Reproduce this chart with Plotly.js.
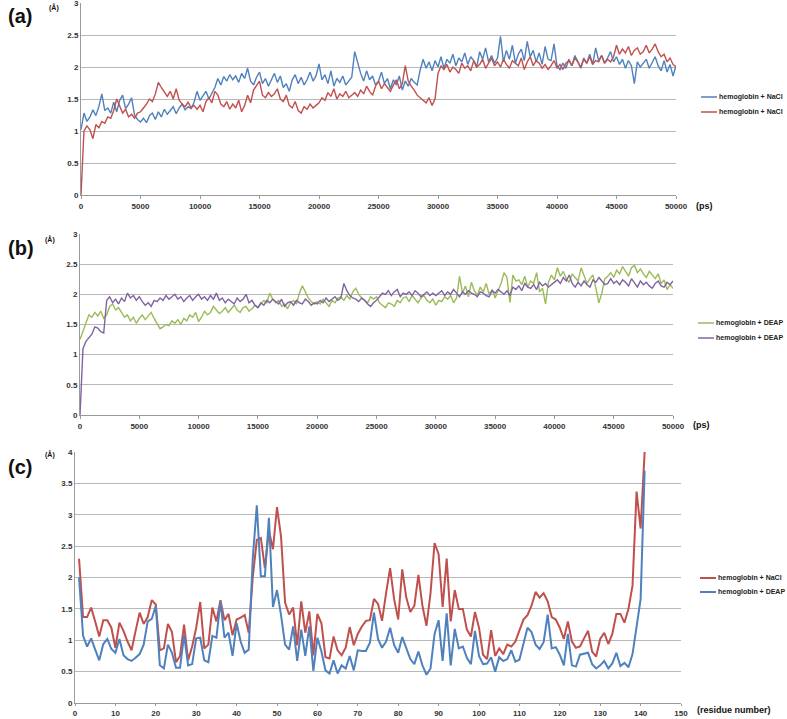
<!DOCTYPE html>
<html><head><meta charset="utf-8">
<script src="https://cdn.plot.ly/plotly-3.0.1.min.js"></script>
<style>html,body{margin:0;padding:0;background:#fff}#chart{width:787px;height:719px}</style>
</head><body><div id="chart"></div>
<script>
// Panel (a): RMSD vs time (ps), sampled every 250 ps from 0 to 50000
const tStep = 250;
const aBlue = [
1.02,1.28,1.15,1.22,1.33,1.24,1.38,1.58,1.32,1.36,1.28,1.45,1.30,1.48,1.56,1.35,1.42,1.52,1.25,1.18,
1.14,1.20,1.13,1.24,1.28,1.18,1.30,1.22,1.34,1.26,1.32,1.38,1.27,1.36,1.42,1.33,1.38,1.35,1.45,1.62,
1.48,1.55,1.62,1.50,1.58,1.68,1.82,1.72,1.85,1.78,1.88,1.80,1.86,1.76,1.90,1.82,1.98,1.78,1.72,1.84,
1.92,1.74,1.82,1.70,1.80,1.90,1.76,1.86,1.68,1.74,1.62,1.80,1.88,1.74,1.84,1.72,1.80,1.92,1.78,1.86,
2.05,1.80,1.88,1.74,1.94,1.70,1.82,1.76,1.86,1.72,1.78,1.84,2.24,2.06,1.90,1.78,1.94,1.80,1.86,1.72,
1.78,1.92,1.74,1.82,1.66,1.80,1.72,1.86,1.64,1.78,1.70,1.82,1.76,1.72,1.95,2.12,1.98,2.08,1.94,2.10,
2.00,2.16,1.98,2.12,2.06,2.20,2.02,2.14,2.08,2.22,2.04,2.16,2.10,2.00,2.24,2.12,2.30,2.08,2.18,2.06,
2.14,2.48,2.08,2.26,2.12,2.34,2.06,2.20,2.28,2.10,2.40,2.16,2.26,2.08,2.22,2.04,2.32,2.12,2.10,2.36,
2.02,1.96,2.06,1.98,2.12,2.02,2.18,2.08,1.98,2.14,2.06,2.20,2.04,2.30,2.10,2.18,2.06,2.14,2.24,2.08,
2.16,2.04,2.12,1.98,2.10,2.02,1.74,2.08,2.00,2.06,2.12,1.98,2.08,2.16,2.02,1.94,2.10,1.92,2.04,1.86,
2.02];
const aRed = [
0.00,1.00,1.08,1.02,0.88,1.10,1.05,1.15,1.12,1.22,1.20,1.32,1.50,1.38,1.28,1.34,1.22,1.26,1.20,1.28,
1.30,1.36,1.42,1.50,1.46,1.58,1.76,1.68,1.60,1.54,1.62,1.50,1.66,1.48,1.42,1.38,1.45,1.36,1.40,1.34,
1.40,1.30,1.46,1.52,1.44,1.62,1.56,1.42,1.38,1.46,1.34,1.42,1.36,1.48,1.30,1.40,1.56,1.44,1.64,1.72,
1.78,1.56,1.52,1.60,1.54,1.58,1.66,1.50,1.46,1.56,1.40,1.36,1.46,1.32,1.28,1.38,1.34,1.42,1.36,1.40,
1.44,1.52,1.48,1.60,1.54,1.66,1.50,1.58,1.54,1.62,1.52,1.56,1.60,1.54,1.64,1.58,1.70,1.62,1.56,1.70,
1.78,1.66,1.74,1.68,1.62,1.72,1.80,1.66,1.74,2.02,1.78,1.70,1.64,1.56,1.52,1.48,1.44,1.52,1.40,1.50,
1.90,2.02,1.96,2.04,1.92,2.00,1.96,1.90,2.06,1.98,2.02,1.94,2.10,2.00,2.04,2.12,1.98,2.06,2.14,2.02,
2.08,2.00,2.12,2.04,1.98,2.10,2.06,2.02,2.14,1.96,2.08,2.16,2.02,2.10,2.06,1.98,2.04,1.96,2.02,2.10,
1.98,2.04,1.96,2.06,2.10,2.02,2.14,2.08,2.00,2.12,2.06,2.16,2.04,2.10,2.08,2.18,2.06,2.12,2.08,2.16,
2.34,2.20,2.28,2.22,2.32,2.18,2.26,2.30,2.20,2.24,2.34,2.22,2.28,2.36,2.24,2.16,2.20,2.08,2.14,2.04,
2.00];
// Panel (b)
const bGreen = [
1.25,1.38,1.52,1.66,1.62,1.70,1.64,1.72,1.60,1.66,1.80,1.84,1.74,1.78,1.70,1.62,1.66,1.56,1.62,1.52,
1.60,1.66,1.58,1.64,1.70,1.60,1.52,1.43,1.46,1.50,1.48,1.56,1.52,1.58,1.50,1.60,1.56,1.66,1.62,1.70,
1.55,1.62,1.72,1.66,1.70,1.80,1.74,1.68,1.72,1.78,1.70,1.76,1.82,1.74,1.70,1.78,1.80,1.72,1.76,1.82,
1.78,1.84,1.90,1.86,2.02,1.92,1.86,1.90,1.80,1.84,1.76,1.86,1.90,1.84,2.02,2.14,2.04,1.94,1.88,1.84,
1.88,1.84,1.92,1.86,1.80,1.90,1.86,1.94,1.96,1.90,1.98,1.92,2.04,2.10,2.00,1.94,1.90,1.86,1.96,1.92,
1.96,1.86,1.82,1.78,1.86,1.84,1.80,1.90,1.86,1.94,1.96,1.88,1.98,1.92,1.86,1.94,1.98,1.90,1.86,1.92,
1.82,1.90,1.88,1.96,1.92,1.98,1.86,1.94,2.30,2.02,2.14,1.96,2.20,2.06,1.98,2.12,2.04,2.18,2.00,2.08,
1.94,2.06,2.18,2.36,2.28,1.86,2.32,2.22,2.24,2.16,2.30,2.12,2.22,2.18,2.36,2.04,2.10,1.84,2.20,2.32,
2.24,2.44,2.30,2.38,2.26,2.20,2.34,2.28,2.22,2.44,2.30,2.18,2.26,2.32,2.10,1.86,2.02,2.26,2.30,2.36,
2.28,2.40,2.34,2.46,2.38,2.30,2.44,2.48,2.36,2.42,2.34,2.28,2.38,2.32,2.26,2.34,2.18,2.24,2.08,2.16,
2.10];
const bPurple = [
0.00,1.10,1.22,1.28,1.34,1.46,1.44,1.38,1.36,1.90,1.96,1.86,1.92,1.84,1.94,1.88,2.02,1.94,1.98,1.90,
1.96,1.88,1.82,1.86,1.80,1.90,1.88,1.94,1.90,1.98,1.92,1.96,2.00,1.92,1.96,1.88,1.94,1.98,1.90,1.96,
2.00,1.92,1.96,1.90,1.98,1.92,2.02,1.90,1.94,1.86,1.92,1.88,1.84,1.94,1.88,1.92,2.00,1.86,1.90,1.82,
1.78,1.86,1.82,1.90,1.86,1.92,1.88,1.84,1.92,1.80,1.86,1.88,1.82,1.90,1.86,1.84,1.92,1.88,1.82,1.86,
1.84,1.90,1.86,1.94,1.88,1.92,1.96,1.90,1.94,2.18,2.06,1.98,1.94,1.92,1.88,1.94,1.90,1.84,1.80,1.86,
1.90,1.96,2.02,2.00,2.06,1.98,2.04,2.08,1.96,2.02,2.00,2.04,1.98,2.06,2.02,1.96,2.00,2.04,1.98,2.02,
1.98,2.02,2.06,1.98,2.04,2.00,2.08,2.02,1.96,2.04,2.00,2.06,2.02,2.00,1.96,2.04,2.02,1.98,1.96,2.06,
2.02,2.08,2.04,2.00,2.06,1.98,2.12,2.08,2.14,2.06,2.18,2.12,2.10,2.16,2.08,2.20,2.14,2.18,2.12,2.16,
2.20,2.24,2.18,2.28,2.22,2.32,2.18,2.12,2.20,2.14,2.22,2.16,2.12,2.24,2.20,2.28,2.22,2.16,2.18,2.26,
2.18,2.22,2.16,2.24,2.20,2.14,2.26,2.18,2.12,2.22,2.16,2.20,2.14,2.10,2.18,2.22,2.14,2.12,2.20,2.16,
2.22];
// Panel (c): RMSF per residue 1..141
const cNaCl = [
2.30,1.37,1.37,1.52,1.30,1.06,1.32,1.32,1.20,0.88,1.28,1.15,0.98,0.84,1.15,1.44,1.26,1.37,1.64,1.57,
0.84,0.87,1.26,1.13,0.65,0.75,1.25,0.68,0.90,1.20,1.61,0.87,0.93,1.52,1.30,1.64,1.32,1.42,1.08,1.33,
1.36,1.40,1.12,2.00,2.60,2.63,2.15,2.75,2.45,3.12,2.65,1.60,1.41,1.52,0.92,1.62,1.12,1.46,0.76,1.42,
1.27,0.73,0.71,1.06,0.84,0.76,0.88,1.21,0.92,1.10,1.22,1.31,1.32,1.66,1.58,1.31,1.75,2.15,1.65,1.33,
2.13,1.68,1.45,1.55,2.04,1.55,1.23,1.75,2.55,2.37,1.53,2.30,1.30,1.80,1.50,1.50,1.17,1.06,1.45,1.20,
0.77,0.70,1.16,0.75,0.87,0.78,0.93,0.90,0.98,1.15,1.33,1.40,1.55,1.77,1.68,1.75,1.62,1.37,1.33,1.20,
1.02,1.30,0.98,0.88,0.90,1.03,1.15,0.82,0.74,1.02,1.12,0.94,1.10,1.42,1.42,1.28,1.50,1.87,3.37,2.78,
4.00];
const cDEAP = [
2.00,1.07,0.90,1.03,0.85,0.68,0.94,1.02,0.86,0.80,1.02,0.76,0.70,0.67,0.72,0.78,0.93,1.30,1.34,1.55,
0.60,0.55,0.93,0.80,0.56,0.56,1.08,0.60,0.62,1.03,1.04,0.68,0.65,1.07,1.04,1.62,1.04,1.12,0.75,1.27,
0.98,0.80,0.85,2.30,3.15,2.02,2.02,2.95,1.53,1.80,1.40,0.93,0.85,1.22,0.67,1.17,0.75,1.22,0.51,1.04,
0.82,0.52,0.47,0.68,0.47,0.60,0.55,0.75,0.52,0.84,0.83,0.83,0.96,1.44,1.02,0.88,0.98,1.20,0.92,0.80,
1.05,0.87,0.70,0.62,0.82,0.60,0.45,0.55,1.10,1.32,0.67,1.43,0.60,1.18,0.87,0.90,0.72,0.62,1.15,0.75,
0.62,0.63,0.73,0.50,0.73,0.67,0.70,0.84,0.66,0.69,0.95,1.20,1.13,0.93,0.86,0.97,1.41,0.87,0.89,0.77,
0.60,1.10,0.60,0.58,0.77,0.79,0.80,0.62,0.55,0.60,0.67,0.55,0.63,0.80,0.59,0.64,0.57,0.78,1.20,1.65,
3.70];
const legendA = ["hemoglobin + NaCl", "hemoglobin + NaCl"];
const legendB = ["hemoglobin + DEAP", "hemoglobin + DEAP"];
const legendC = ["hemoglobin + NaCl", "hemoglobin + DEAP"];
const colors = {blue:"#4F81BD", red:"#C0504D", green:"#9BBB59", purple:"#8064A2"};

const times = aBlue.map((_, i) => i * tStep);
const residues = cNaCl.map((_, i) => i + 1);

const W = 787, H = 719;
const px = x => x / W;
const py = y => 1 - y / H;
const dx = (l, r) => [px(l), px(r)];
const dy = (t, b) => [py(b), py(t)];

const traces = [
  {x: times, y: aBlue, xaxis:"x", yaxis:"y", name: legendA[0], line:{color:colors.blue,width:1.4}},
  {x: times, y: aRed, xaxis:"x", yaxis:"y", name: legendA[1], line:{color:colors.red,width:1.4}},
  {x: times, y: bGreen, xaxis:"x2", yaxis:"y2", name: legendB[0], line:{color:colors.green,width:1.4}},
  {x: times, y: bPurple, xaxis:"x2", yaxis:"y2", name: legendB[1], line:{color:colors.purple,width:1.4}},
  {x: residues, y: cNaCl, xaxis:"x3", yaxis:"y3", name: legendC[0], line:{color:colors.red,width:2}},
  {x: residues, y: cDEAP, xaxis:"x3", yaxis:"y3", name: legendC[1], line:{color:colors.blue,width:2}}
].map(t => Object.assign({type:"scatter", mode:"lines", hoverinfo:"skip", showlegend:false}, t));

const FONT = "Liberation Sans, Arial, sans-serif";
const tickfont = {family:FONT, size:8, color:"#333", weight:"bold"};
const xbase = {showgrid:false, showline:true, linecolor:"#9a9a9a", linewidth:1, ticks:"outside", ticklen:3, tickcolor:"#9a9a9a",
  tickfont, zeroline:false, tickformat:"d", ticklabeloverflow:"allow"};
const ybase = {showgrid:true, gridcolor:"#b8b8b8", gridwidth:1, showline:true, linecolor:"#9a9a9a", linewidth:1, ticks:"",
  tickfont, zeroline:false, ticklabeloverflow:"allow"};

const ann = (text, x, y, size, opts) => Object.assign({text, x: px(x), y: py(y), xref:"paper", yref:"paper", showarrow:false,
  font:{family:FONT, size, color:"#111", weight:"bold"}, xanchor:"left", yanchor:"middle"}, opts || {});

// manual legends: line sample (shape) + label (annotation)
const shapes = [];
const legAnn = [];
function addLegend(names, cols, x0, y0, gap, lw) {
  names.forEach((n, i) => {
    const y = y0 + i * gap;
    shapes.push({type:"line", xref:"paper", yref:"paper", x0: px(x0), x1: px(x0 + 16), y0: py(y), y1: py(y),
      line:{color: cols[i], width: lw}});
    legAnn.push(ann(n, x0 + 16, y, 7, {font:{family:FONT, size:7, color:"#222", weight:"bold"}}));
  });
}
addLegend(legendA, [colors.blue, colors.red], 701, 97, 15, 1.5);
addLegend(legendB, [colors.green, colors.purple], 698, 323, 15, 1.5);
addLegend(legendC, [colors.red, colors.blue], 700, 578, 14, 2);

const layout = {
  width: W, height: H, margin:{l:0,r:0,t:0,b:0, autoexpand:false}, paper_bgcolor:"#fff", plot_bgcolor:"#fff",
  xaxis: Object.assign({}, xbase, {domain: dx(81, 676), range:[0,50000], dtick:5000, tick0:0, anchor:"y"}),
  yaxis: Object.assign({}, ybase, {domain: dy(3, 195), range:[0,3], dtick:0.5, anchor:"x"}),
  xaxis2: Object.assign({}, xbase, {domain: dx(80, 673), range:[0,50000], dtick:5000, tick0:0, anchor:"y2"}),
  yaxis2: Object.assign({}, ybase, {domain: dy(234, 415), range:[0,3], dtick:0.5, anchor:"x2"}),
  xaxis3: Object.assign({}, xbase, {domain: dx(75, 681), range:[0,150], dtick:10, tick0:0, anchor:"y3", ticklen:2}),
  yaxis3: Object.assign({}, ybase, {domain: dy(452, 703), range:[0,4], dtick:0.5, anchor:"x3"}),
  shapes,
  annotations: [
    ann("(a)", 6, 16, 20),
    ann("(b)", 6, 248, 20),
    ann("(c)", 6, 467, 20),
    ann("(Å)", 47, 7, 7),
    ann("(Å)", 43, 239, 7),
    ann("(Å)", 43, 454, 7),
    ann("(ps)", 694, 206, 9),
    ann("(ps)", 691, 425, 9),
    ann("(residue number)", 695, 710, 9)
  ].concat(legAnn)
};
Plotly.newPlot("chart", traces, layout, {staticPlot:true});
</script></body></html>
